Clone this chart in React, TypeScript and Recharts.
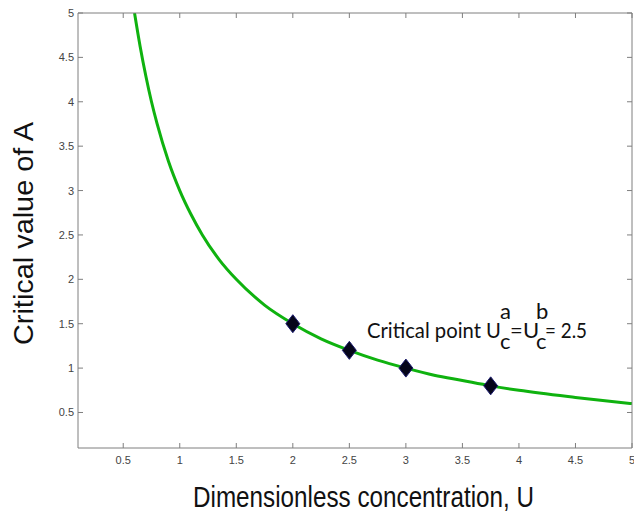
import React from "react";
import { ComposedChart, Line, Scatter, XAxis, YAxis } from "recharts";

// curve (U, critical A)
const curveU = [0.6, 0.65, 0.7, 0.75, 0.8, 0.9, 1.0, 1.1, 1.2, 1.35, 1.5, 1.75, 2.0, 2.25, 2.5, 2.75, 3.0, 3.25, 3.5, 3.75, 4.0, 4.5, 5.0];
const curveA = [5.0, 4.62, 4.29, 4.0, 3.75, 3.33, 3.0, 2.73, 2.5, 2.22, 2.0, 1.71, 1.5, 1.33, 1.2, 1.09, 1.0, 0.92, 0.86, 0.8, 0.75, 0.67, 0.6];

// diamond markers
const markerU = [2, 2.5, 3, 3.75];
const markerA = [1.5, 1.2, 1.0, 0.8];

const xTicks = [0.5, 1, 1.5, 2, 2.5, 3, 3.5, 4, 4.5, 5];
const yTicks = [0.5, 1, 1.5, 2, 2.5, 3, 3.5, 4, 4.5, 5];

const curve = curveU.map((u, i) => ({ u, a: curveA[i] }));
const markers = markerU.map((u, i) => ({ u, a: markerA[i] }));

const W = 634;
const H = 514;
const M = { top: 12, right: 1, bottom: 0, left: 0 };
const X_AXIS_H = 66;
const Y_AXIS_W = 78;
// plot box edges
const LEFT = M.left + Y_AXIS_W;
const RIGHT = W - M.right - 1;
const TOP = M.top + 1;
const BOTTOM = H - M.bottom - X_AXIS_H;

const axisColor = "#7f7f7f";
const tickFont = "'Liberation Sans', Arial, sans-serif";

const BottomTick = (props: any) => {
  const { x, payload } = props;
  return (
    <g>
      <line x1={x} y1={BOTTOM} x2={x} y2={BOTTOM - 5} stroke={axisColor} />
      <text x={x} y={BOTTOM + 16} textAnchor="middle" fontSize={11} fill="#444" fontFamily={tickFont}>
        {payload.value}
      </text>
    </g>
  );
};

const LeftTick = (props: any) => {
  const { y, payload } = props;
  return (
    <g>
      <line x1={LEFT} y1={y} x2={LEFT + 5} y2={y} stroke={axisColor} />
      <text x={LEFT - 4} y={y + 4} textAnchor="end" fontSize={11} fill="#444" fontFamily={tickFont}>
        {payload.value}
      </text>
    </g>
  );
};

const TopTick = (props: any) => {
  const { x } = props;
  return <line x1={x} y1={TOP} x2={x} y2={TOP + 5} stroke={axisColor} />;
};

const RightTick = (props: any) => {
  const { y } = props;
  return <line x1={RIGHT} y1={y} x2={RIGHT - 5} y2={y} stroke={axisColor} />;
};

const Diamond = (props: any) => {
  const { cx, cy } = props;
  if (cx == null || cy == null) return null;
  return (
    <polygon
      points={`${cx},${cy - 9} ${cx + 7},${cy} ${cx},${cy + 9} ${cx - 7},${cy}`}
      fill="#05051a"
      stroke="#1c1c70"
      strokeWidth={1}
    />
  );
};

export default function App() {
  const noteFont = "Lato, 'Open Sans', sans-serif";
  return (
    <div style={{ position: "absolute", left: 0, top: 0, width: W, height: H, background: "#fff" }}>
      <ComposedChart width={W} height={H} margin={M}>
        <XAxis
          xAxisId="b"
          type="number"
          dataKey="u"
          domain={[0.1, 5]}
          ticks={xTicks}
          allowDataOverflow
          height={X_AXIS_H}
          stroke={axisColor}
          tickLine={false}
          tick={<BottomTick />}
          interval={0}
        />
        <XAxis
          xAxisId="t"
          orientation="top"
          type="number"
          dataKey="u"
          domain={[0.1, 5]}
          ticks={xTicks}
          allowDataOverflow
          height={1}
          stroke={axisColor}
          tickLine={false}
          tick={<TopTick />}
          interval={0}
        />
        <YAxis
          yAxisId="l"
          type="number"
          dataKey="a"
          domain={[0.1, 5]}
          ticks={yTicks}
          allowDataOverflow
          width={Y_AXIS_W}
          stroke={axisColor}
          tickLine={false}
          tick={<LeftTick />}
          interval={0}
        />
        <YAxis
          yAxisId="r"
          orientation="right"
          type="number"
          dataKey="a"
          domain={[0.1, 5]}
          ticks={yTicks}
          allowDataOverflow
          width={1}
          stroke={axisColor}
          tickLine={false}
          tick={<RightTick />}
          interval={0}
        />
        <Line
          xAxisId="b"
          yAxisId="l"
          data={curve}
          dataKey="a"
          type="monotone"
          stroke="#0fb20f"
          strokeWidth={3}
          dot={false}
          isAnimationActive={false}
        />
        <Scatter
          xAxisId="b"
          yAxisId="l"
          data={markers}
          dataKey="a"
          shape={<Diamond />}
          isAnimationActive={false}
        />
        {/* invisible series so the mirrored top/right axes get drawn */}
        <Scatter
          xAxisId="t"
          yAxisId="r"
          data={markers}
          dataKey="a"
          shape={() => null}
          isAnimationActive={false}
        />
      </ComposedChart>
      <svg width={W} height={H} style={{ position: "absolute", left: 0, top: 0, pointerEvents: "none" }}>
        <text x={193} y={507} fontSize={29} fill="#111" fontFamily={tickFont} textLength={341} lengthAdjust="spacingAndGlyphs">
          Dimensionless concentration, U
        </text>
        <text
          x={0}
          y={0}
          transform="translate(33,345) rotate(-90)"
          fontSize={28}
          fill="#111"
          fontFamily={tickFont}
          textLength={223}
          lengthAdjust="spacingAndGlyphs"
        >
          Critical value of A
        </text>
        <g fontFamily={noteFont} fontSize={22} fill="#111">
          <text x={367} y={338} textLength={134} lengthAdjust="spacingAndGlyphs">Critical point U</text>
          <text x={500} y={319}>a</text>
          <text x={500} y={349}>c</text>
          <text x={510} y={338}>=</text>
          <text x={523} y={338}>U</text>
          <text x={536} y={319}>b</text>
          <text x={536} y={349}>c</text>
          <text x={545} y={338} textLength={42} lengthAdjust="spacingAndGlyphs">= 2.5</text>
        </g>
      </svg>
    </div>
  );
}
